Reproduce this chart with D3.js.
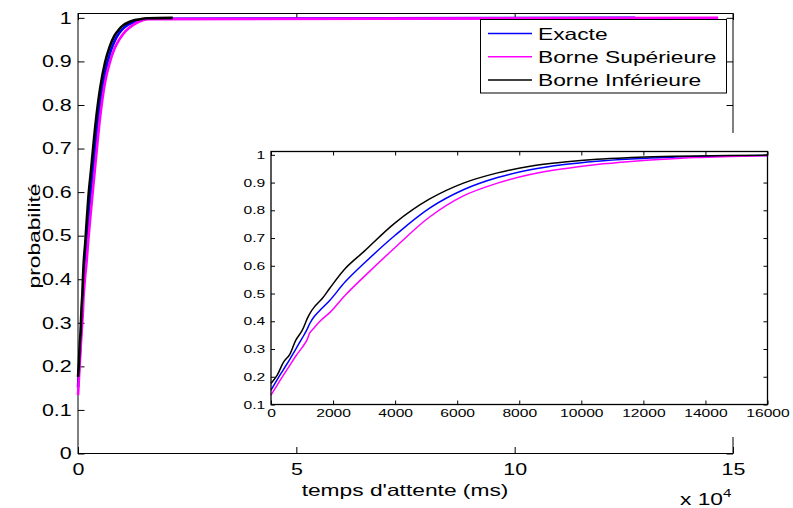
<!DOCTYPE html>
<html>
<head>
<meta charset="utf-8">
<script src="https://cdn.jsdelivr.net/npm/d3@7"></script>
<style>
  body { margin: 0; background: #fff; }
  text { font-family: "Liberation Sans", Arial, sans-serif; fill: #000; }
</style>
</head>
<body>
<div id="graphe"></div>
<script>
// temps d'attente (ms) et fonctions de repartition
var tempsMs  = [0, 200, 400, 600, 800, 1000, 1150, 1250, 1400, 1650, 1900, 2400, 3000, 4000, 5100, 6200, 7300, 8350, 9450, 10500, 11600, 12650, 13700, 16000];
var exacte   = [0.152, 0.19, 0.226, 0.262, 0.3, 0.338, 0.368, 0.392, 0.418, 0.448, 0.476, 0.543, 0.609, 0.71, 0.807, 0.874, 0.918, 0.946, 0.965, 0.977, 0.985, 0.99, 0.994, 0.998];
var borneSup = [0.134, 0.17, 0.206, 0.24, 0.275, 0.305, 0.33, 0.358, 0.378, 0.408, 0.432, 0.495, 0.561, 0.666, 0.775, 0.852, 0.898, 0.929, 0.95, 0.965, 0.976, 0.984, 0.99, 0.997];
var borneInf = [0.176, 0.206, 0.252, 0.28, 0.332, 0.366, 0.405, 0.428, 0.452, 0.482, 0.52, 0.591, 0.652, 0.755, 0.84, 0.898, 0.935, 0.959, 0.974, 0.984, 0.99, 0.994, 0.996, 0.999];
// fin de chaque courbe sur le graphe principal (ms)
var finCourbe = [127600, 146600, 21700];

var series = ["Exacte", "Borne Supérieure", "Borne Inférieure"];
var couleurs = ["#0000ff", "#ff00ff", "#000000"];
var valeurs = [exacte, borneSup, borneInf];

var ticksX = [0, 50000, 100000, 150000];
var ticksY = [0, 0.1, 0.2, 0.3, 0.4, 0.5, 0.6, 0.7, 0.8, 0.9, 1];
var ticksXZoom = [0, 2000, 4000, 6000, 8000, 10000, 12000, 14000, 16000];
var ticksYZoom = [0.1, 0.2, 0.3, 0.4, 0.5, 0.6, 0.7, 0.8, 0.9, 1];

var W = 793, H = 508;
var svg = d3.select("#graphe").append("svg")
  .attr("width", W).attr("height", H);

var fmt = d3.format("~g");
var sxTexte = 1.38, sxZoom = 1.42;

// graphe principal
var main = { left: 78, right: 733, top: 13.5, bottom: 453.5 };
var xScale = d3.scaleLinear().domain([0, 150000]).range([main.left, main.right]);
var yScale = d3.scaleLinear().domain([0, 1.01]).range([main.bottom, main.top]);

function etireAxeBas(g, sx, base) {
  g.selectAll("text").attr("dy", null).attr("y", base)
    .attr("transform", "scale(" + sx + ",1)");
}
function etireAxeGauche(g, sx, pad) {
  g.selectAll("text").attr("x", 0)
    .attr("transform", "translate(" + (-pad) + ",0) scale(" + sx + ",1)");
}
function nettoie(g) {
  g.select(".domain").remove();
  g.selectAll(".tick line").attr("stroke", "#000");
}

var gx = svg.append("g").attr("transform", "translate(0," + main.bottom + ")")
  .call(d3.axisBottom(xScale).tickValues(ticksX).tickSize(-6.5)
    .tickFormat(function (d) { return fmt(d / 10000); }))
  .style("font-size", "16.5px");
nettoie(gx); etireAxeBas(gx, 1.3, 21.5);
var gxTop = svg.append("g").attr("transform", "translate(0," + main.top + ")")
  .call(d3.axisTop(xScale).tickValues(ticksX).tickSize(-6.5).tickFormat(""));
nettoie(gxTop);
var gy = svg.append("g").attr("transform", "translate(" + main.left + ",0)")
  .call(d3.axisLeft(yScale).tickValues(ticksY).tickSize(-6.5).tickFormat(fmt))
  .style("font-size", "16.5px");
nettoie(gy); etireAxeGauche(gy, 1.3, 6.3);
var gyR = svg.append("g").attr("transform", "translate(" + main.right + ",0)")
  .call(d3.axisRight(yScale).tickValues(ticksY).tickSize(-6.5).tickFormat(""));
nettoie(gyR);

svg.append("rect")
  .attr("x", main.left).attr("y", main.top)
  .attr("width", main.right - main.left).attr("height", main.bottom - main.top)
  .attr("fill", "none").attr("stroke", "#000").attr("stroke-width", 1);

var ligneMain = d3.line()
  .x(function (d) { return xScale(d[0]); })
  .y(function (d) { return yScale(d[1]); })
  .curve(d3.curveMonotoneX);

valeurs.forEach(function (v, i) {
  var pts = tempsMs.map(function (t, k) { return [t, v[k]]; });
  pts.push([finCourbe[i], 1]);
  svg.append("path").datum(pts)
    .attr("d", ligneMain)
    .attr("fill", "none").attr("stroke", couleurs[i]).attr("stroke-width", 2.6);
});

// legende
var leg = svg.append("g");
leg.append("rect").attr("x", 480.5).attr("y", 19.5).attr("width", 246).attr("height", 73.5)
  .attr("fill", "#fff").attr("stroke", "#000").attr("stroke-width", 1);
series.forEach(function (s, i) {
  var yy = 33.5 + i * 23.3;
  leg.append("line").attr("x1", 488).attr("x2", 532).attr("y1", yy).attr("y2", yy)
    .attr("stroke", couleurs[i]).attr("stroke-width", 1.5);
  leg.append("text").attr("transform", "translate(538," + (yy + 6) + ") scale(" + sxTexte + ",1)")
    .style("font-size", "16.5px").text(s);
});

// titres des axes
svg.append("text")
  .attr("transform", "translate(405,496) scale(" + sxTexte + ",1)")
  .attr("text-anchor", "middle").style("font-size", "16.5px")
  .text("temps d'attente (ms)");
var mult = svg.append("text")
  .attr("transform", "translate(680,505) scale(" + sxTexte + ",1)")
  .style("font-size", "16.5px");
mult.append("tspan").text("x 10");
mult.append("tspan").attr("dy", -8).style("font-size", "11px").text("4");
svg.append("text")
  .attr("transform", "translate(40,236) rotate(-90) scale(" + sxTexte + ",1)")
  .attr("text-anchor", "middle").style("font-size", "16.5px")
  .text("probabilité");

// zoom sur les premieres 16000 ms
svg.append("rect").attr("x", 225).attr("y", 133).attr("width", W - 225).attr("height", 304)
  .attr("fill", "#fff");

var ins = { left: 271, right: 767.5, top: 151.5, bottom: 404.5 };
var xZoom = d3.scaleLinear().domain([0, 16000]).range([ins.left, ins.right]);
var yZoom = d3.scaleLinear().domain([0.1, 1.012]).range([ins.bottom, ins.top]);

var zx = svg.append("g").attr("transform", "translate(0," + ins.bottom + ")")
  .call(d3.axisBottom(xZoom).tickValues(ticksXZoom).tickSize(-4).tickFormat(fmt))
  .style("font-size", "11px");
nettoie(zx); etireAxeBas(zx, sxZoom, 12.7);
var zxTop = svg.append("g").attr("transform", "translate(0," + ins.top + ")")
  .call(d3.axisTop(xZoom).tickValues(ticksXZoom).tickSize(-4).tickFormat(""));
nettoie(zxTop);
var zy = svg.append("g").attr("transform", "translate(" + ins.left + ",0)")
  .call(d3.axisLeft(yZoom).tickValues(ticksYZoom).tickSize(-4).tickFormat(fmt))
  .style("font-size", "11px");
nettoie(zy); etireAxeGauche(zy, sxZoom, 5.7);
var zyR = svg.append("g").attr("transform", "translate(" + ins.right + ",0)")
  .call(d3.axisRight(yZoom).tickValues(ticksYZoom).tickSize(-4).tickFormat(""));
nettoie(zyR);

var ligneZoom = d3.line()
  .x(function (d) { return xZoom(d[0]); })
  .y(function (d) { return yZoom(d[1]); })
  .curve(d3.curveCatmullRom.alpha(0.5));

valeurs.forEach(function (v, i) {
  var pts = tempsMs.map(function (t, k) { return [t, v[k]]; });
  svg.append("path").datum(pts)
    .attr("d", ligneZoom)
    .attr("fill", "none").attr("stroke", couleurs[i]).attr("stroke-width", 1.5);
});

svg.append("rect")
  .attr("x", ins.left).attr("y", ins.top)
  .attr("width", ins.right - ins.left).attr("height", ins.bottom - ins.top)
  .attr("fill", "none").attr("stroke", "#000").attr("stroke-width", 1.3);
</script>
</body>
</html>
